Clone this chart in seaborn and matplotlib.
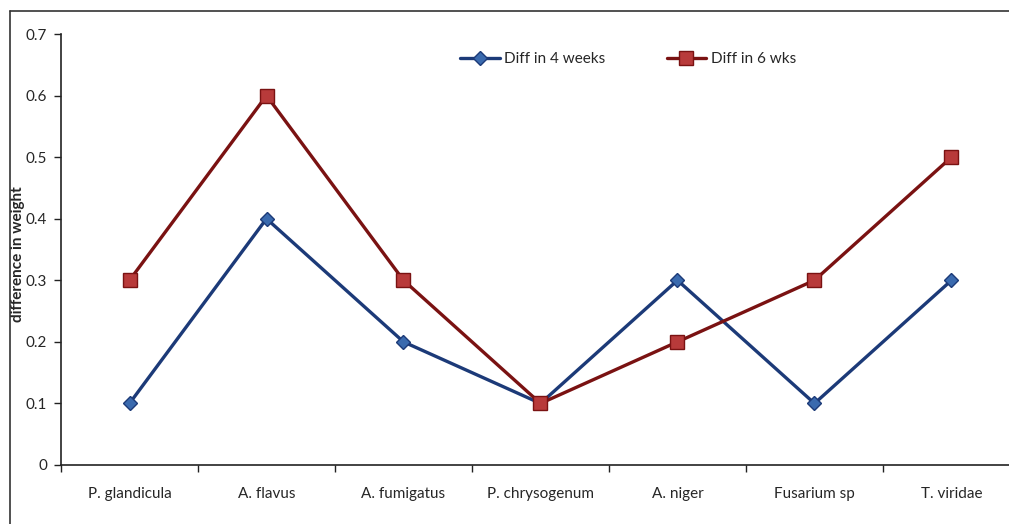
import matplotlib
matplotlib.use("Agg")
import matplotlib.pyplot as plt
import seaborn as sns
import pandas as pd
from matplotlib.lines import Line2D

categories = ["P. glandicula", "A. flavus", "A. fumigatus", "P. chrysogenum",
              "A. niger", "Fusarium sp", "T. viridae"]
diff_4_weeks = [0.1, 0.4, 0.2, 0.1, 0.3, 0.1, 0.3]
diff_6_wks = [0.3, 0.6, 0.3, 0.1, 0.2, 0.3, 0.5]
series_names = ["Diff in 4 weeks", "Diff in 6 wks"]
y_ticks = [0, 0.1, 0.2, 0.3, 0.4, 0.5, 0.6, 0.7]
y_ticklabels = ["0", "0.1", "0.2", "0.3", "0.4", "0.5", "0.6", "0.7"]

sns.set_theme(style="white")
plt.rcParams["font.family"] = ["Lato", "DejaVu Sans"]

df = pd.DataFrame({
    "cat": categories * 2,
    "x": list(range(len(categories))) * 2,
    "value": diff_4_weeks + diff_6_wks,
    "series": [series_names[0]] * len(categories) + [series_names[1]] * len(categories),
})

fig = plt.figure(figsize=(10.09, 5.24), dpi=100)
ax = fig.add_axes([61 / 1009, 59 / 524, 959 / 1009, 431 / 524])

line_colors = {series_names[0]: "#1c3a78", series_names[1]: "#7a1212"}
face_colors = {series_names[0]: "#3a6aae", series_names[1]: "#b83a3a"}
markers = {series_names[0]: "D", series_names[1]: "s"}
msizes = {series_names[0]: 7, series_names[1]: 10}

for name in series_names:
    sub = df[df["series"] == name]
    sns.lineplot(data=sub, x="x", y="value", ax=ax, color=line_colors[name],
                 linewidth=2.4, marker=markers[name], markersize=msizes[name],
                 markerfacecolor=face_colors[name], markeredgecolor=line_colors[name],
                 markeredgewidth=1.0, label=name, sort=False)

ax.set_xlim(-0.5, 6.5)
ax.set_ylim(0, 0.7)
ax.set_yticks(y_ticks)
ax.set_yticklabels(y_ticklabels, fontsize=11)
ax.set_xticks(range(len(categories)))
ax.set_xticklabels(categories, fontsize=11)
ax.set_xticks([i + 0.5 for i in range(-1, len(categories))], minor=True)
ax.tick_params(axis="x", which="major", length=0, pad=16)
ax.tick_params(axis="x", which="minor", length=5, width=1, color="#222222", direction="out", bottom=True)
ax.tick_params(axis="y", which="major", length=5, width=1, color="#222222", direction="out", left=True, pad=5)
ax.set_xlabel("")
ax.set_ylabel("difference in weight", fontsize=11, fontweight="bold", labelpad=0)
ax.yaxis.set_label_coords(-0.0375, 0.49)

for s in ["top", "right"]:
    ax.spines[s].set_visible(False)
for s in ["left", "bottom"]:
    ax.spines[s].set_color("#222222")
    ax.spines[s].set_linewidth(1.2)

leg = ax.legend(loc="upper center", bbox_to_anchor=(567 / 959, 0.99), ncol=2, frameon=False,
                fontsize=11, handlelength=2.6, columnspacing=4.0, handletextpad=0.3)

fig.add_artist(Line2D([10 / 1009, 10 / 1009], [0, 1 - 11 / 524], transform=fig.transFigure,
                      color="#333333", linewidth=1.2))
fig.add_artist(Line2D([10 / 1009, 1], [1 - 11 / 524, 1 - 11 / 524], transform=fig.transFigure,
                      color="#333333", linewidth=1.2))

fig.savefig("out.png", dpi=100)
